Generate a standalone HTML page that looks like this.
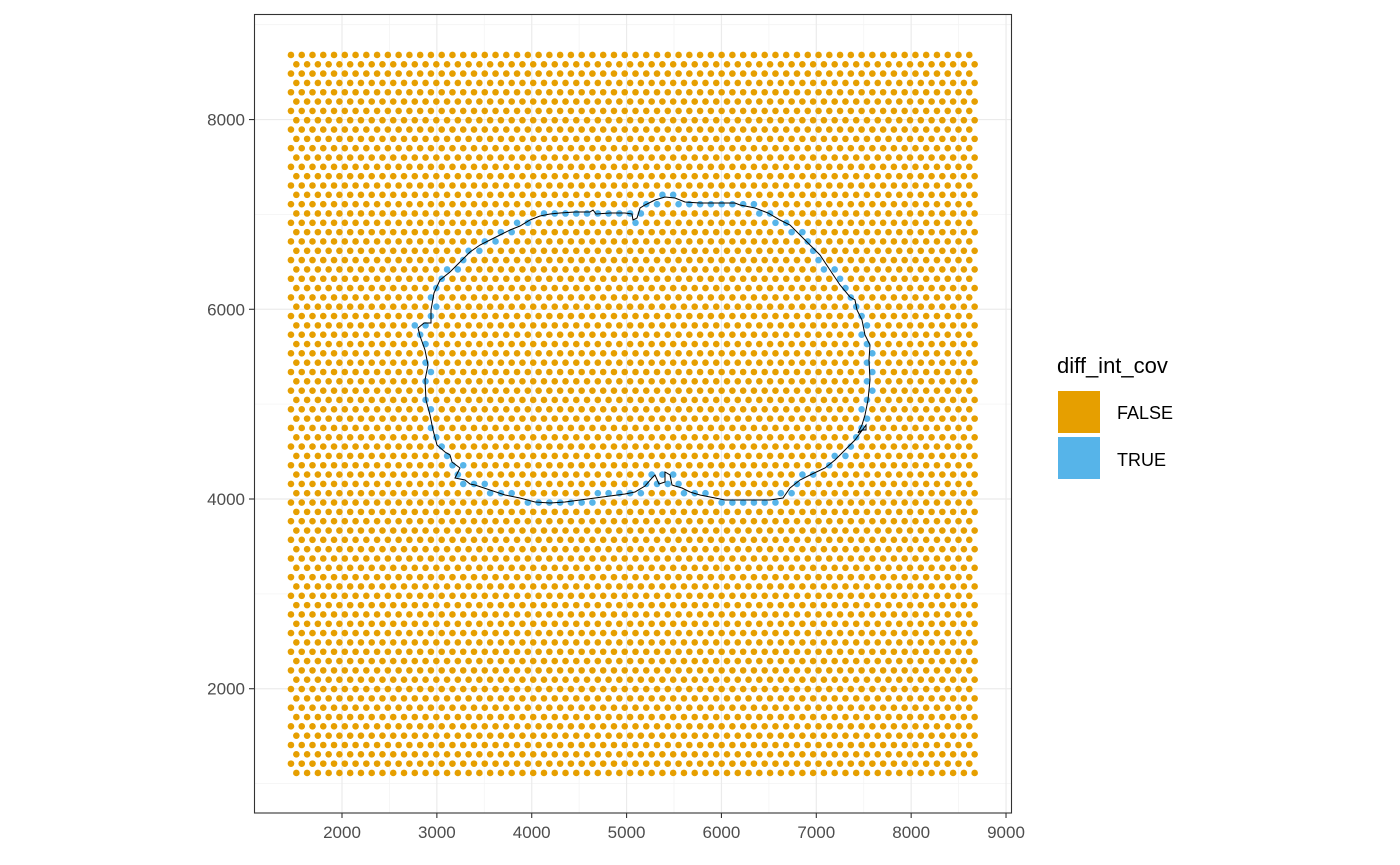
<!DOCTYPE html>
<html><head><meta charset="utf-8">
<style>
html,body{margin:0;padding:0;background:#fff;}
svg{display:block;font-family:"Liberation Sans",sans-serif;}
</style></head>
<body>
<svg id="chart" width="1400" height="865" viewBox="0 0 1400 865" xmlns="http://www.w3.org/2000/svg">
  <rect x="0" y="0" width="1400" height="865" fill="#fff"/>
  <g id="grid"></g>
  <g id="spots"></g>
  <g id="contour"></g>
  <rect x="254.5" y="14.5" width="757" height="798.5" fill="none" stroke="#333" stroke-width="1.1"/>
  <g id="axes"></g>
  <g>
    <text x="1057" y="373" font-size="22" fill="#000">diff_int_cov</text>
    <rect x="1058" y="391" width="42" height="42" fill="#E69F00"/>
    <text x="1117" y="419" font-size="18" fill="#000">FALSE</text>
    <rect x="1058" y="437" width="42" height="42" fill="#56B4E9"/>
    <text x="1117" y="466" font-size="18" fill="#000">TRUE</text>
  </g>
</svg>
<script>
const xTicks = [2000,3000,4000,5000,6000,7000,8000,9000];
const yTicks = [2000,4000,6000,8000];
const gridCols = 64;
const gridRows = 78;
const gridX0 = 1462;
const gridY0 = 8681;
const colStep = 113.5;
const rowStep = 98.3;
const contourX = [2801,2864,2938,2938,2970,3033,3139,3244,3349,3455,3560,3666,3771,3876,3982,4087,4193,4298,4456,4614,4646,4678,4825,4983,5057,5068,5110,5142,5194,5300,5405,5510,5616,5774,5985,6143,6196,6354,6491,6617,6723,6828,6934,7039,7144,7250,7355,7408,7429,7482,7513,7566,7556,7566,7545,7513,7482,7440,7482,7524,7524,7408,7303,7197,7092,6934,6828,6723,6649,6512,6354,6196,6038,5880,5774,5669,5584,5510,5479,5458,5405,5405,5342,5300,5268,5194,5089,4983,4825,4667,4509,4351,4193,4035,3876,3718,3560,3402,3349,3297,3191,3244,3160,3139,3086,3001,2959,2928,2886,2875,2907,2875,2822,2801];
const contourY = [5803,5855,5855,5992,6172,6309,6393,6498,6604,6678,6730,6783,6836,6878,6941,6983,7004,7015,7026,7026,7047,7004,7015,7015,7004,6941,6962,7068,7099,7152,7184,7173,7131,7120,7120,7120,7099,7068,7015,6941,6888,6783,6678,6572,6414,6256,6129,6098,5992,5887,5729,5623,5465,5254,5043,4886,4780,4696,4727,4727,4780,4622,4517,4411,4327,4253,4200,4116,4011,3989,3989,3989,3989,4021,4042,4074,4116,4137,4148,4253,4285,4179,4158,4253,4221,4137,4074,4053,4032,4011,3989,3968,3958,3968,4011,4042,4095,4148,4158,4200,4221,4327,4390,4464,4495,4569,4727,4886,5043,5254,5413,5571,5718,5803];

const svgNS = "http://www.w3.org/2000/svg";
const X0 = 342, KX = 0.09486, Y0 = 499;
function sx(v){ return X0 + (v-2000)*KX; }
function sy(v){ return Y0 - (v-4000)*KX; }
function mk(tag, attrs, parent){
  const el = document.createElementNS(svgNS, tag);
  for (const k in attrs) el.setAttribute(k, attrs[k]);
  parent.appendChild(el);
  return el;
}
const gGrid = document.getElementById('grid');
const gAxes = document.getElementById('axes');
for (let i=0;i<xTicks.length-1;i++){
  const l = mk('line',{x1:sx((xTicks[i]+xTicks[i+1])/2),x2:sx((xTicks[i]+xTicks[i+1])/2),y1:14,y2:813,stroke:'#F4F4F4','stroke-width':0.8},gGrid);
  
  
}
for (const v of [1000,3000,5000,7000,9000]){
  const y = sy(v); if (y<14||y>813) continue;
  const l = mk('line',{x1:254,x2:1012,y1:y,y2:y,stroke:'#F4F4F4','stroke-width':0.8},gGrid);
  
  
}
xTicks.forEach(v=>{
  const x = sx(v);
  const l = mk('line',{x1:x,x2:x,y1:14,y2:813,stroke:'#EBEBEB','stroke-width':1.2},gGrid);
  
  
  const t = mk('line',{x1:x,x2:x,y1:813,y2:818,stroke:'#333','stroke-width':1.1},gAxes);
  
  
  const tx = mk('text',{x:x,y:838,'font-size':17,fill:'#4D4D4D','text-anchor':'middle'},gAxes);
  tx.textContent = v;
  
  
});
yTicks.forEach(v=>{
  const y = sy(v);
  const l = mk('line',{x1:254,x2:1012,y1:y,y2:y,stroke:'#EBEBEB','stroke-width':1.2},gGrid);
  
  
  const t = mk('line',{x1:249,x2:254,y1:y,y2:y,stroke:'#333','stroke-width':1.1},gAxes);
  
  
  const tx = mk('text',{x:245,y:y+6,'font-size':17,fill:'#4D4D4D','text-anchor':'end'},gAxes);
  tx.textContent = v;
  
  
});
function segDist(px,py,ax,ay,bx,by){
  const dx=bx-ax, dy=by-ay; const L=dx*dx+dy*dy;
  let t = L? ((px-ax)*dx+(py-ay)*dy)/L : 0; t=Math.max(0,Math.min(1,t));
  const cx=ax+t*dx-px, cy=ay+t*dy-py; return Math.sqrt(cx*cx+cy*cy);
}
function contourDist(x,y){
  let m=1e9;
  for (let i=0;i<contourX.length-1;i++) m=Math.min(m,segDist(x,y,contourX[i],contourY[i],contourX[i+1],contourY[i+1]));
  return m;
}
const gSpots = document.getElementById('spots');
const trueSpots = [];
for (let r=0;r<gridRows;r++){
  for (let c=0;c<gridCols;c++){
    const x = gridX0 + c*colStep + (r%2 ? colStep/2 : 0);
    const y = gridY0 - r*rowStep;
    const isTrue = contourDist(x,y) < 50;
    if (isTrue){ trueSpots.push([x,y]); continue; }
    const s = mk('circle',{cx:sx(x),cy:sy(y),r:3.3,fill:'#E69F00'},gSpots);
    
    
  }
}
trueSpots.forEach(p=>{
  const s = mk('circle',{cx:sx(p[0]),cy:sy(p[1]),r:3.3,fill:'#56B4E9'},gSpots);
  
  
});
const pts = contourX.map((x,i)=>sx(x).toFixed(1)+','+sy(contourY[i]).toFixed(1)).join(' ');
const poly = mk('polygon',{points:pts,fill:'none',stroke:'#000','stroke-width':1},document.getElementById('contour'));


</script>
</body></html>
